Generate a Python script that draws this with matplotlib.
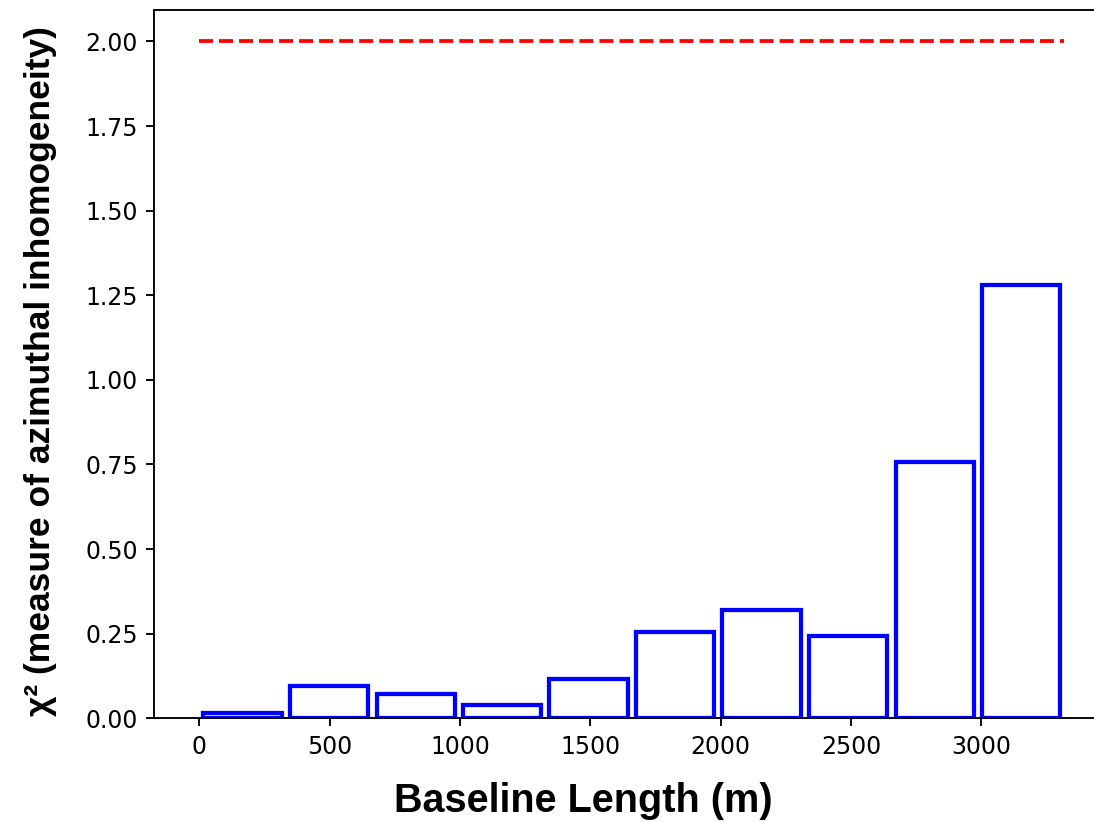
import matplotlib
matplotlib.use("Agg")
import matplotlib.pyplot as plt

# binned baselines (bin centres, m) and chi-square per bin
bin_centers = [166, 498, 830, 1161, 1493, 1825, 2157, 2489, 2821, 3152]
chi2_values = [0.016, 0.095, 0.072, 0.038, 0.115, 0.254, 0.321, 0.243, 0.757, 1.281]
threshold = 2.0
threshold_span = [0, 3318]

fig = plt.figure(figsize=(1094 / 170, 822 / 170), dpi=170)
ax = fig.add_axes([0.1410, 0.1262, 0.8752, 0.8617])

ax.bar(bin_centers, chi2_values, width=300, facecolor="white",
       edgecolor="blue", linewidth=1.8)
ax.hlines(threshold, threshold_span[0], threshold_span[1], colors="red",
          linestyles="--", linewidth=1.6)

ax.set_xlim(-172.6, 3500)
ax.set_ylim(0, 2.093)
ax.set_xticks([0, 500, 1000, 1500, 2000, 2500, 3000])
ax.set_yticks([0, 0.25, 0.5, 0.75, 1.0, 1.25, 1.5, 1.75, 2.0])
ax.set_yticklabels(["0.00", "0.25", "0.50", "0.75", "1.00", "1.25", "1.50", "1.75", "2.00"])
ax.spines["right"].set_visible(False)

bold = dict(family=["Liberation Sans", "DejaVu Sans"], fontweight="bold")
ax.set_xlabel("Baseline Length (m)", fontsize=16.8, **bold)
ax.set_ylabel("χ² (measure of azimuthal inhomogeneity)", fontsize=15, **bold)
ax.xaxis.set_label_coords(0.4478, -0.090)
ax.yaxis.set_label_coords(-0.102, 0.490)

fig.savefig("out.png", dpi=170)
